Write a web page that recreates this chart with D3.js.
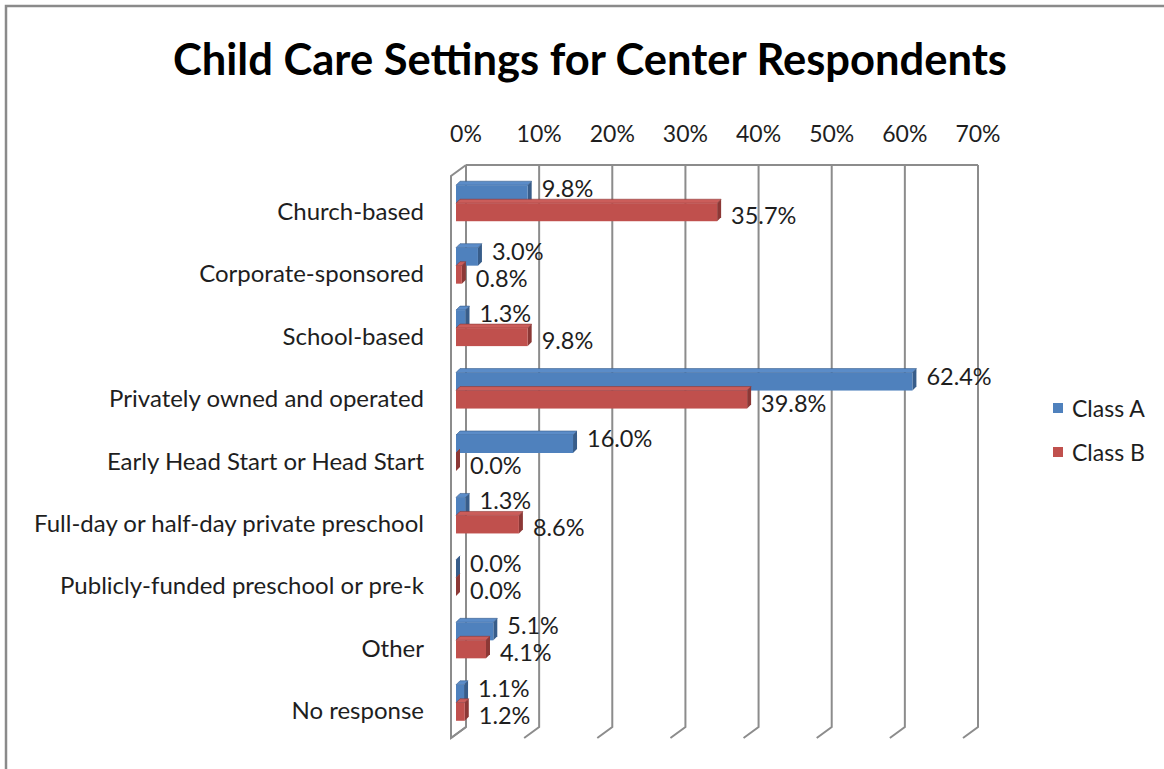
<!DOCTYPE html>
<html>
<head>
<meta charset="utf-8">
<script src="https://cdn.jsdelivr.net/npm/d3@7"></script>
<style>
  body { margin: 0; background: #fff; }
  text { font-family: Lato, "Open Sans", sans-serif; fill: #1e1e1e; }
</style>
</head>
<body>
<div id="chart-area"></div>
<script>
const categories = ["Church-based", "Corporate-sponsored", "School-based", "Privately owned and operated",
  "Early Head Start or Head Start", "Full-day or half-day private preschool",
  "Publicly-funded preschool or pre-k", "Other", "No response"]
const classA = [9.8, 3.0, 1.3, 62.4, 16.0, 1.3, 0.0, 5.1, 1.1]
const classB = [35.7, 0.8, 9.8, 39.8, 0.0, 8.6, 0.0, 4.1, 1.2]
const ticks = [0, 10, 20, 30, 40, 50, 60, 70]
const seriesNames = ["Class A", "Class B"]

const W = 1164, H = 769
const WALL = { LEFT: 466, RIGHT: 978, TOP: 165, BOTTOM: 727 }
const DEPTH = { X: -15, Y: 11 }       // back wall -> front edge
const BAR_OFF = { X: -10, Y: 7 }      // back wall -> bar front face
const BAR_SIDE = { X: 4, Y: -4 }      // bar thickness
const BAR_H = 18

const colors = [
  { face: "#4f81bd", side: "#385d8a", top: "#5b8cc8" },
  { face: "#c0504d", side: "#8c3836", top: "#cb5d5a" }
]
const gridColor = "#8c8c8c"

const svg = d3.select("#chart-area").append("svg")
  .attr("width", W)
  .attr("height", H)

// chart frame
svg.append("path")
  .attr("d", `M6,${H} V6 H${W}`)
  .attr("fill", "none")
  .attr("stroke", "#8a8a8a")
  .attr("stroke-width", 2.5)

// title
svg.append("text")
  .attr("x", 590)
  .attr("y", 58)
  .attr("text-anchor", "middle")
  .attr("dominant-baseline", "central")
  .attr("font-size", "43.5px")
  .attr("font-weight", "bold")
  .style("fill", "#000")
  .text("Child Care Settings for Center Respondents")

const x = d3.scaleLinear()
  .domain([0, 70])
  .range([WALL.LEFT, WALL.RIGHT])

const y = d3.scaleBand()
  .domain(categories)
  .range([WALL.TOP, WALL.BOTTOM])

const g = svg.append("g")

// back wall gridlines + floor diagonals
ticks.forEach(t => {
  g.append("path")
    .attr("d", `M${x(t)},${WALL.TOP} V${WALL.BOTTOM} l${DEPTH.X},${DEPTH.Y}`)
    .attr("fill", "none")
    .attr("stroke", gridColor)
    .attr("stroke-width", 2)
})
// top edge of wall
g.append("line")
  .attr("x1", x(0)).attr("x2", x(70))
  .attr("y1", WALL.TOP).attr("y2", WALL.TOP)
  .attr("stroke", gridColor)
  .attr("stroke-width", 2)
// left side wall
g.append("path")
  .attr("d", `M${x(0)},${WALL.TOP} l${DEPTH.X},${DEPTH.Y} V${WALL.BOTTOM + DEPTH.Y} l${-DEPTH.X},${-DEPTH.Y}`)
  .attr("fill", "none")
  .attr("stroke", gridColor)
  .attr("stroke-width", 2)

// tick labels
g.selectAll(".tick-label")
  .data(ticks)
  .enter().append("text")
  .attr("class", "tick-label")
  .attr("x", d => x(d))
  .attr("y", 133)
  .attr("text-anchor", "middle")
  .attr("dominant-baseline", "central")
  .attr("font-size", "23px")
  .text(d => d + "%")

// category labels
g.selectAll(".cat-label")
  .data(categories)
  .enter().append("text")
  .attr("class", "cat-label")
  .attr("x", 424)
  .attr("y", d => y(d) + y.bandwidth() / 2 + 14)
  .attr("text-anchor", "end")
  .attr("dominant-baseline", "central")
  .attr("font-size", "24px")
  .text(d => d)

// bars
const bars = []
categories.forEach((c, i) => {
  bars.push({ cat: c, s: 0, v: classA[i] })
  bars.push({ cat: c, s: 1, v: classB[i] })
})

function barGeom(d) {
  const cy = y(d.cat) + y.bandwidth() / 2 + BAR_OFF.Y
  const y0 = d.s === 0 ? cy - BAR_H : cy
  const x0 = x(0) + BAR_OFF.X
  const x1 = x(d.v) + BAR_OFF.X
  return { x0, x1, y0, y1: y0 + BAR_H }
}

const barG = g.selectAll(".bar")
  .data(bars)
  .enter().append("g")
  .attr("class", "bar")

barG.append("path")
  .attr("d", d => {
    const b = barGeom(d)
    return `M${b.x0},${b.y0} L${b.x1},${b.y0} l${BAR_SIDE.X},${BAR_SIDE.Y} L${b.x0 + BAR_SIDE.X},${b.y0 + BAR_SIDE.Y} Z`
  })
  .attr("fill", d => colors[d.s].top)
  .attr("stroke", d => colors[d.s].side)
  .attr("stroke-width", 0.6)

barG.append("path")
  .attr("d", d => {
    const b = barGeom(d)
    return `M${b.x1},${b.y0} l${BAR_SIDE.X},${BAR_SIDE.Y} V${b.y1 + BAR_SIDE.Y} L${b.x1},${b.y1} Z`
  })
  .attr("fill", d => colors[d.s].side)

barG.append("rect")
  .attr("x", d => barGeom(d).x0)
  .attr("y", d => barGeom(d).y0)
  .attr("width", d => barGeom(d).x1 - barGeom(d).x0)
  .attr("height", BAR_H)
  .attr("fill", d => colors[d.s].face)

// value labels
barG.append("text")
  .attr("x", d => barGeom(d).x1 + BAR_SIDE.X + 10)
  .attr("y", d => {
    const b = barGeom(d)
    return (b.y0 + b.y1) / 2 + (d.s === 0 ? -6 : 3)
  })
  .attr("dominant-baseline", "central")
  .attr("font-size", "23.5px")
  .text(d => d.v.toFixed(1) + "%")

// legend
const legend = svg.selectAll(".legend")
  .data(seriesNames)
  .enter().append("g")
  .attr("class", "legend")
  .attr("transform", (d, i) => `translate(1053, ${408 + i * 44})`)

legend.append("rect")
  .attr("x", 0).attr("y", -5)
  .attr("width", 10).attr("height", 10)
  .attr("fill", (d, i) => colors[i].face)

legend.append("text")
  .attr("x", 19)
  .attr("y", 0)
  .attr("dominant-baseline", "central")
  .attr("font-size", "23px")
  .text(d => d)
</script>
</body>
</html>
